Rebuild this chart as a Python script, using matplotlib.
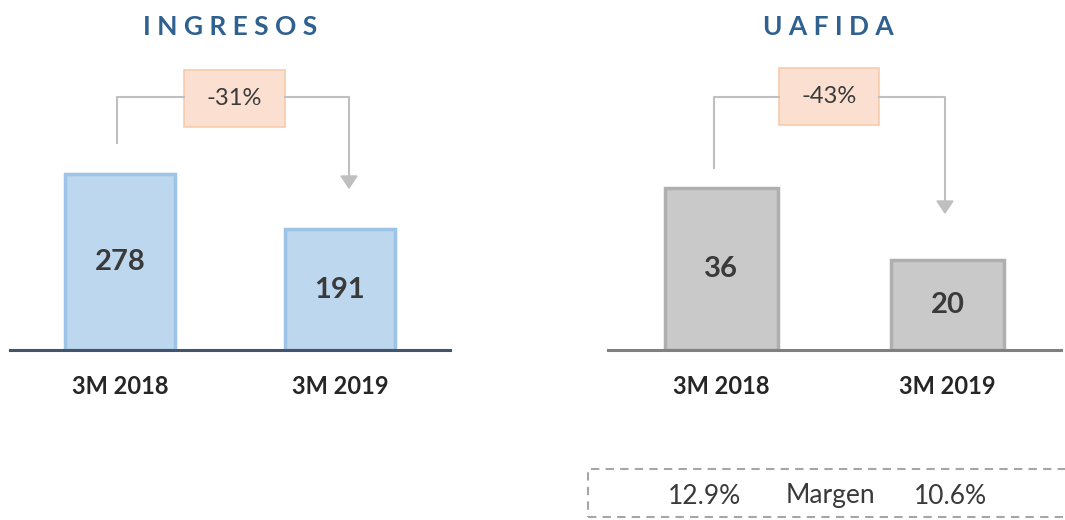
import matplotlib.pyplot as plt
from matplotlib.patches import Rectangle

plt.rcParams['font.family'] = ['Lato', 'DejaVu Sans']

categories = ["3M 2018", "3M 2019"]
ingresos = [278, 191]
uafida = [36, 20]
changes = ["-31%", "-43%"]
titles = ["INGRESOS", "UAFIDA"]
margen = ["12.9%", "Margen", "10.6%"]

W, H = 1065, 520
fig = plt.figure(figsize=(W / 100, H / 100), dpi=100)


def fx(x, y):
    # pixel position -> figure fraction
    return x / W, 1 - y / H


def panel(x0, x1, vals, ymax, fill, edge, axcol, title, tx):
    ax = fig.add_axes([x0 / W, 1 - 350 / H, (x1 - x0) / W, 350 / H])
    ax.bar(range(len(vals)), vals, width=0.5, color=fill, edgecolor=edge, linewidth=2.5)
    ax.set_xlim(-0.5, 1.5)
    ax.set_ylim(0, ymax)
    ax.axis("off")
    ax.axhline(0, color=axcol, lw=2.2, clip_on=False)
    for i, v in enumerate(vals):
        ax.text(i, v / 2, str(v), ha="center", va="center", fontsize=21,
                fontweight="bold", color="#3A3A3A")
        px = ax.transData.transform((i, 0))[0]
        fig.text(px / W, 1 - 387 / H, categories[i], ha="center", va="center",
                 fontsize=17, fontweight="bold", color="#262626")
    fig.text(tx / W, 1 - 27 / H, " ".join(title), ha="center", va="center",
             fontsize=19, fontweight="bold", color="#2F6190")
    return ax


def bracket(xs, ys, y_mid, xt, yt, box, label):
    lc = "#BFBFBF"
    fig.add_artist(plt.Line2D(*zip(fx(xs, ys), fx(xs, y_mid), fx(box[0], y_mid)),
                              color=lc, lw=1.5))
    fig.add_artist(plt.Line2D(*zip(fx(box[1], y_mid), fx(xt, y_mid), fx(xt, yt - 12)),
                              color=lc, lw=1.5))
    fig.patches.append(plt.Polygon([fx(xt - 8, yt - 12), fx(xt + 8, yt - 12), fx(xt, yt)],
                                   closed=True, color=lc, transform=fig.transFigure))
    bl, bt = fx(box[0], box[3])
    br, btp = fx(box[1], box[2])
    fig.patches.append(Rectangle((bl, bt), br - bl, btp - bt, transform=fig.transFigure,
                                 facecolor="#FBE0D2", edgecolor="#F8CBAD", lw=1.2))
    cx, cy = fx((box[0] + box[1]) / 2, (box[2] + box[3]) / 2)
    fig.text(cx, cy, label, ha="center", va="center", fontsize=17, color="#3A3A3A")


panel(10, 450, ingresos, 553, "#BDD7EE", "#9DC3E6", "#44546A", titles[0], 230)
panel(608, 1061, uafida, 77.8, "#C9C9C9", "#AFAFAF", "#808080", titles[1], 828)

bracket(117, 143, 97, 349, 188, (184, 285, 70, 127), changes[0])
bracket(714, 168, 97, 945, 213, (779, 879, 68, 125), changes[1])

# dashed margin box
bl, bb = fx(588, 517)
br, bt = fx(1075, 469)
fig.patches.append(Rectangle((bl, bb), br - bl, bt - bb, transform=fig.transFigure,
                             facecolor="none", edgecolor="#A6A6A6", lw=1.5,
                             linestyle=(0, (4, 3))))
for txt, x in zip(margen, [705, 830, 950]):
    xx, yy = fx(x, 496)
    fig.text(xx, yy, txt, ha="center", va="center", fontsize=19, color="#3A3A3A")

fig.savefig("out.png", dpi=100)
